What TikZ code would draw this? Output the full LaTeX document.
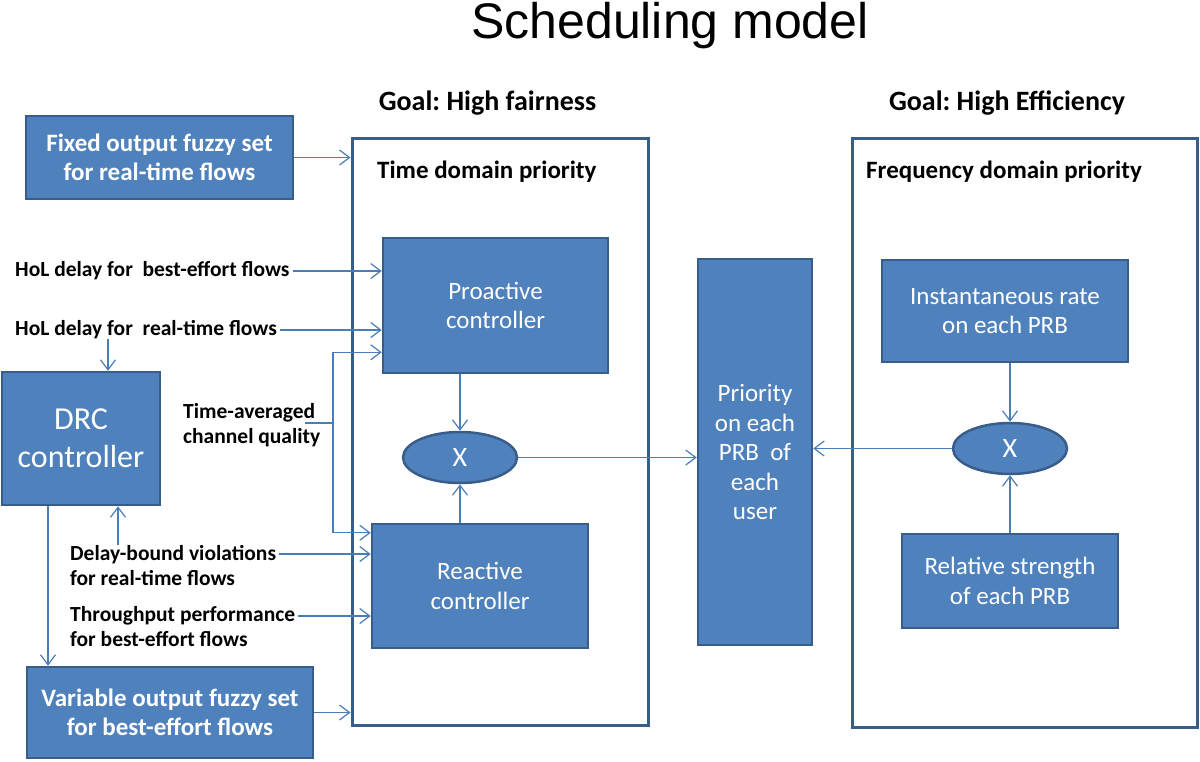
\documentclass[tikz,border=0pt]{standalone}
\usepackage{fontspec}
\setmainfont{Carlito}
\newfontfamily\headfont{Liberation Sans}
\usetikzlibrary{arrows.meta,shapes.geometric}
\frenchspacing

\definecolor{boxfill}{HTML}{4F81BD}
\definecolor{boxline}{HTML}{385D8A}
\definecolor{arrline}{HTML}{4A7EBB}

\begin{document}
\begin{tikzpicture}[x=1pt, y=-1pt,
    outerbox/.style={draw=boxline, line width=3pt, inner sep=0pt},
    block/.style={draw=boxline, fill=boxfill, line width=2.5pt, text=white, align=center,
        inner sep=0pt, font=\fontsize{25}{29.5}\selectfont},
    boldblock/.style={block, font=\fontsize{25}{29}\selectfont\bfseries},
    mult/.style={block, ellipse, font=\fontsize{28}{30}\selectfont},
    inlabel/.style={align=left, inner sep=0pt, font=\fontsize{21.5}{25.5}\selectfont\bfseries},
    goal/.style={inner sep=0pt, anchor=base, font=\fontsize{28}{30}\selectfont\bfseries},
    domtitle/.style={inner sep=0pt, anchor=base west, font=\fontsize{25}{28}\selectfont\bfseries},
    arr/.style={draw=arrline, line width=1.2pt, -{Straight Barb[length=10pt,width=15pt]}},
    feed/.style={draw=arrline, line width=1.2pt}]
    \useasboundingbox (0,0) rectangle (1200,761);

    \node[inner sep=0pt, anchor=base, font=\headfont\fontsize{50}{55}\selectfont] (title) at (670,38) {Scheduling model};

    \node[outerbox, minimum width=296, minimum height=587] (timedom) at (500,431.5) {};
    \node[outerbox, minimum width=345, minimum height=589] (freqdom) at (1024.5,432.5) {};
    \node[goal] (goalfair) at (487.5,110) {Goal: High fairness};
    \node[goal] (goaleff) at (1007,110) {Goal: High Efficiency};
    \node[domtitle] (timelabel) at (377,178) {Time domain priority};
    \node[domtitle] (freqlabel) at (866,178) {Frequency domain priority};

    \node[boldblock, minimum width=267, minimum height=83] (fixed) at (159.5,157.5) {Fixed output fuzzy set\\for real-time flows};
    \node[block, minimum width=158, minimum height=133, font=\fontsize{32}{38}\selectfont] (drc) at (81,438.5) {DRC\\controller};
    \node[boldblock, minimum width=286, minimum height=91] (var) at (170,712.5) {Variable output fuzzy set\\for best-effort flows};
    \node[block, minimum width=225, minimum height=135] (proactive) at (495.5,305.5) {Proactive\\controller};
    \node[block, minimum width=216, minimum height=124] (reactive) at (480,586) {Reactive\\controller};
    \node[mult, minimum width=114, minimum height=51] (timemult) at (460,457.5) {X};
    \node[block, minimum width=114, minimum height=386] (priority) at (755,452) {Priority\\on each\\PRB~~of\\each\\user};
    \node[block, minimum width=246, minimum height=102] (rate) at (1005,311) {Instantaneous rate\\on each PRB};
    \node[mult, minimum width=114, minimum height=51] (freqmult) at (1010,448.5) {X};
    \node[block, minimum width=216, minimum height=94] (strength) at (1010,581) {Relative strength\\of each PRB};

    \node[inlabel, anchor=west] (holbe) at (15,271) {HoL delay for\ \ best-effort flows};
    \node[inlabel, anchor=west] (holrt) at (15,330) {HoL delay for\ \ real-time flows};
    \node[inlabel, anchor=north west] (chq) at (183,403) {Time-averaged\\channel quality};
    \node[inlabel, anchor=north west] (delay) at (70,545) {Delay-bound violations\\for real-time flows};
    \node[inlabel, anchor=north west] (thr) at (70,606) {Throughput performance\\for best-effort flows};
    \coordinate (chqsplit) at (333,423);

    \draw[arr] (fixed) -- (fixed -| timedom.west);
    \draw[arr] (var) -- (var -| timedom.west);
    \draw[arr, shorten <=3pt] (holbe.east) -- (holbe.east -| proactive.west);
    \draw[arr, shorten <=3pt] (holrt.east) -- (holrt.east -| proactive.west);
    \draw[arr] ([xshift=27pt]drc.north |- holrt.south) -- ([xshift=27pt]drc.north);
    \draw[feed] ([xshift=-15pt,yshift=-20pt]chq.north east) -- (chqsplit);
    \draw[arr] (chqsplit) |- ([yshift=22pt]proactive.south west);
    \draw[arr] (chqsplit) |- ([yshift=-10pt]reactive.north west);
    \draw[arr, shorten <=3pt] ([yshift=-9pt]delay.north east) -- ([yshift=-9pt]delay.north east -| reactive.west);
    \draw[arr, shorten <=3pt] ([yshift=-10pt]thr.north east) -- ([yshift=-10pt]thr.north east -| reactive.west);
    \draw[arr] ([xshift=37pt]drc.south |- delay.north) -- ([xshift=37pt]drc.south);
    \draw[arr] ([xshift=-33pt]drc.south) -- ([xshift=-33pt]drc.south |- var.north);
    \draw[arr] (timemult |- proactive.south) -- (timemult.north);
    \draw[arr] (timemult |- reactive.north) -- (timemult.south);
    \draw[arr] (timemult.east) -- (timemult.east -| priority.west);
    \draw[arr] (freqmult |- rate.south) -- (freqmult.north);
    \draw[arr] (freqmult |- strength.north) -- (freqmult.south);
    \draw[arr] (freqmult.west) -- (freqmult.west -| priority.east);
\end{tikzpicture}
\end{document}
